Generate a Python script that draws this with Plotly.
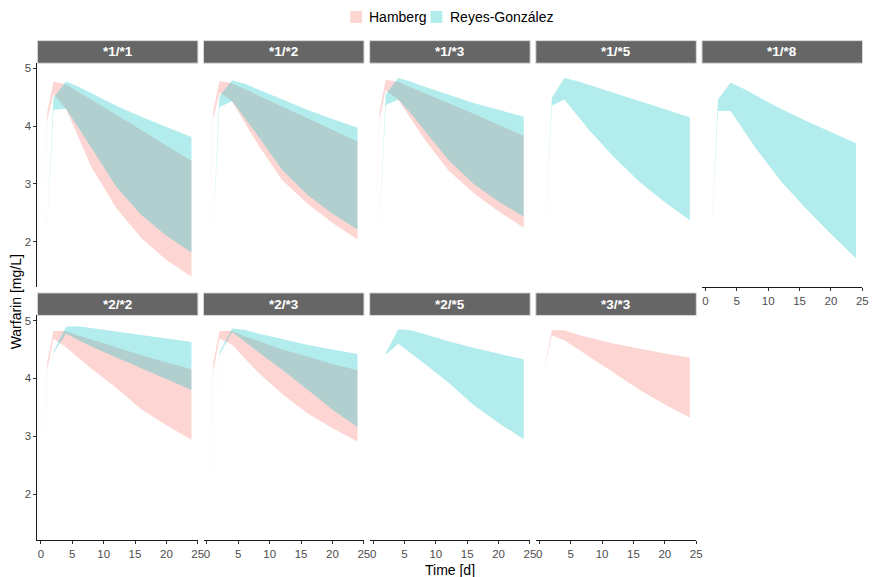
import plotly.graph_objects as go

# ---------------- data ----------------
PANELS = ["*1/*1", "*1/*2", "*1/*3", "*1/*5", "*1/*8",
          "*2/*2", "*2/*3", "*2/*5", "*3/*3"]

T_HAM = [0.5, 1, 2, 4, 6, 8, 12, 16, 20, 24]
T_RG = [1, 2, 4, 6, 8, 12, 16, 20, 24]

HAM_HI = {
    "*1/*1": [2.22, 4.23, 4.77, 4.72, 4.59, 4.46, 4.19, 3.93, 3.66, 3.40],
    "*1/*2": [2.22, 4.26, 4.78, 4.74, 4.64, 4.54, 4.34, 4.14, 3.93, 3.73],
    "*1/*3": [2.22, 4.23, 4.80, 4.76, 4.67, 4.58, 4.40, 4.21, 4.02, 3.83],
    "*2/*2": [2.22, 4.27, 4.82, 4.82, 4.74, 4.67, 4.53, 4.40, 4.28, 4.16],
    "*2/*3": [2.22, 4.26, 4.82, 4.82, 4.73, 4.65, 4.50, 4.38, 4.25, 4.14],
    "*3/*3": [2.22, 4.28, 4.83, 4.83, 4.76, 4.70, 4.60, 4.51, 4.43, 4.36],
}
HAM_LO = {
    "*1/*1": [2.20, 4.10, 4.55, 4.30, 3.80, 3.30, 2.58, 2.06, 1.68, 1.39],
    "*1/*2": [2.20, 4.12, 4.58, 4.43, 4.06, 3.70, 3.06, 2.66, 2.32, 2.04],
    "*1/*3": [2.20, 4.10, 4.62, 4.46, 4.12, 3.80, 3.23, 2.84, 2.52, 2.24],
    "*2/*2": [2.20, 4.14, 4.69, 4.54, 4.35, 4.17, 3.84, 3.47, 3.19, 2.94],
    "*2/*3": [2.20, 4.13, 4.69, 4.58, 4.35, 4.12, 3.73, 3.40, 3.14, 2.91],
    "*3/*3": [2.20, 4.25, 4.74, 4.66, 4.52, 4.37, 4.09, 3.80, 3.55, 3.32],
}
RG_HI = {
    "*1/*1": [2.22, 4.49, 4.77, 4.68, 4.57, 4.35, 4.16, 3.98, 3.81],
    "*1/*2": [2.22, 4.52, 4.79, 4.73, 4.64, 4.46, 4.28, 4.12, 3.97],
    "*1/*3": [2.22, 4.55, 4.83, 4.77, 4.69, 4.54, 4.40, 4.28, 4.16],
    "*1/*5": [2.22, 4.49, 4.83, 4.78, 4.71, 4.57, 4.43, 4.29, 4.15],
    "*1/*8": [2.22, 4.46, 4.75, 4.65, 4.53, 4.30, 4.09, 3.89, 3.70],
    "*2/*2": [2.22, 4.46, 4.89, 4.90, 4.87, 4.81, 4.75, 4.69, 4.63],
    "*2/*3": [2.22, 4.45, 4.86, 4.84, 4.78, 4.68, 4.58, 4.50, 4.42],
    "*2/*5": [2.22, 4.43, 4.85, 4.83, 4.77, 4.64, 4.53, 4.43, 4.33],
}
RG_LO = {
    "*1/*1": [2.20, 4.28, 4.30, 3.97, 3.63, 2.95, 2.46, 2.10, 1.81],
    "*1/*2": [2.20, 4.33, 4.43, 4.15, 3.85, 3.24, 2.81, 2.48, 2.21],
    "*1/*3": [2.20, 4.36, 4.46, 4.22, 3.95, 3.41, 3.00, 2.69, 2.43],
    "*1/*5": [2.20, 4.35, 4.46, 4.18, 3.92, 3.45, 3.03, 2.68, 2.37],
    "*1/*8": [2.20, 4.26, 4.26, 3.93, 3.62, 3.05, 2.57, 2.13, 1.71],
    "*2/*2": [2.20, 4.43, 4.77, 4.66, 4.55, 4.37, 4.18, 3.99, 3.80],
    "*2/*3": [2.20, 4.41, 4.80, 4.63, 4.47, 4.15, 3.81, 3.46, 3.16],
    "*2/*5": [2.20, 4.41, 4.60, 4.43, 4.27, 3.93, 3.54, 3.23, 2.95],
}

X_TICKS = [0, 5, 10, 15, 20, 25]
Y_TICKS = [2, 3, 4, 5]
LEGEND_NAMES = ["Hamberg", "Reyes-González"]

# ---------------- style / layout ----------------
W, H = 881, 577
FONT = "Liberation Sans, Arial, sans-serif"
HAM_FILL = "rgba(248,118,109,0.3)"
RG_FILL = "rgba(0,191,196,0.3)"
COL_LEFT = [37.7, 204.9, 372.2, 539.5, 706.8]
PANEL_W = 161.6
ROW_TOP = [62.3, 315.0]
ROW_BOT = [286.7, 540.0]
STRIP_H = 22.6
X_RANGE = [-0.55, 25.03]
Y_RANGE = [1.21, 5.087]


def px(x):
    return x / W


def py(y):
    return 1 - y / H


fig = go.Figure()
layout = {}
shapes = []
annotations = []

for i, p in enumerate(PANELS):
    r, c = divmod(i, 5)
    n = i + 1
    sfx = "" if n == 1 else str(n)
    xa, ya = "x" + sfx, "y" + sfx

    for t, lo_d, hi_d, fill in ((T_HAM, HAM_LO, HAM_HI, HAM_FILL),
                                (T_RG, RG_LO, RG_HI, RG_FILL)):
        if p not in hi_d:
            continue
        hi, lo = hi_d[p], lo_d[p]
        fig.add_trace(go.Scatter(
            x=list(t) + list(t)[::-1], y=list(hi) + list(lo)[::-1],
            fill="toself", fillcolor=fill, mode="lines",
            line=dict(width=0, color=fill), hoverinfo="skip",
            showlegend=False, xaxis=xa, yaxis=ya))

    show_x = (r == 1) or (i == 4)
    show_y = (c == 0)
    layout["xaxis" + sfx] = dict(
        domain=[px(COL_LEFT[c]), px(COL_LEFT[c] + PANEL_W)],
        range=X_RANGE, anchor=ya, visible=show_x,
        tickvals=X_TICKS, ticks="outside", ticklen=3, tickcolor="#333333",
        ticklabelstandoff=0,
        showline=True, linecolor="#1A1A1A", linewidth=1,
        showgrid=False, zeroline=False,
        tickfont=dict(family=FONT, size=11.5, color="#4D4D4D"))
    layout["yaxis" + sfx] = dict(
        domain=[py(ROW_BOT[r]), py(ROW_TOP[r])],
        range=Y_RANGE, anchor=xa, visible=show_y,
        tickvals=Y_TICKS, ticks="outside", ticklen=3, tickcolor="#333333",
        showline=True, linecolor="#1A1A1A", linewidth=1,
        showgrid=False, zeroline=False,
        tickfont=dict(family=FONT, size=11.5, color="#4D4D4D"))

    # strip
    x0, x1 = px(COL_LEFT[c]), px(COL_LEFT[c] + PANEL_W)
    y1 = py(ROW_TOP[r] - STRIP_H)
    y0 = py(ROW_TOP[r])
    shapes.append(dict(type="rect", xref="paper", yref="paper",
                       x0=x0, x1=x1, y0=y0, y1=y1,
                       fillcolor="#666666", line=dict(color="#D9D9D9", width=1),
                       layer="above"))
    annotations.append(dict(xref="paper", yref="paper", x=(x0 + x1) / 2,
                            y=(y0 + y1) / 2, text="<b>%s</b>" % p, showarrow=False,
                            xanchor="center", yanchor="middle",
                            font=dict(family=FONT, size=13.5, color="white")))

# legend (manual keys)
for (kx, tx), name, fill in zip(((352.7, 370.0), (433.5, 451.5)), LEGEND_NAMES,
                                (HAM_FILL, RG_FILL)):
    shapes.append(dict(type="rect", xref="paper", yref="paper",
                       x0=px(kx), x1=px(kx + 11.8), y0=py(22), y1=py(10),
                       fillcolor=fill, line=dict(width=0)))
    annotations.append(dict(xref="paper", yref="paper", x=px(tx), y=py(16),
                            text=name, showarrow=False, xanchor="left",
                            yanchor="middle",
                            font=dict(family=FONT, size=14, color="#000000")))

# axis titles
annotations.append(dict(xref="paper", yref="paper", x=px(453), y=py(560),
                        text="Time [d]", showarrow=False, xanchor="center",
                        yanchor="top",
                        font=dict(family=FONT, size=14, color="#000000")))
annotations.append(dict(xref="paper", yref="paper", x=px(17), y=py(301),
                        text="Warfarin [mg/L]", showarrow=False, textangle=-90,
                        xanchor="center", yanchor="middle",
                        font=dict(family=FONT, size=14, color="#000000")))

fig.update_layout(width=W, height=H, margin=dict(l=0, r=0, t=0, b=0),
                  paper_bgcolor="white", plot_bgcolor="white",
                  showlegend=False, shapes=shapes, annotations=annotations,
                  font=dict(family=FONT), **layout)

fig.write_html("out.html", config={"displayModeBar": False},
               post_script="document.body.style.margin='0';"
                           "document.body.style.overflow='hidden';")
